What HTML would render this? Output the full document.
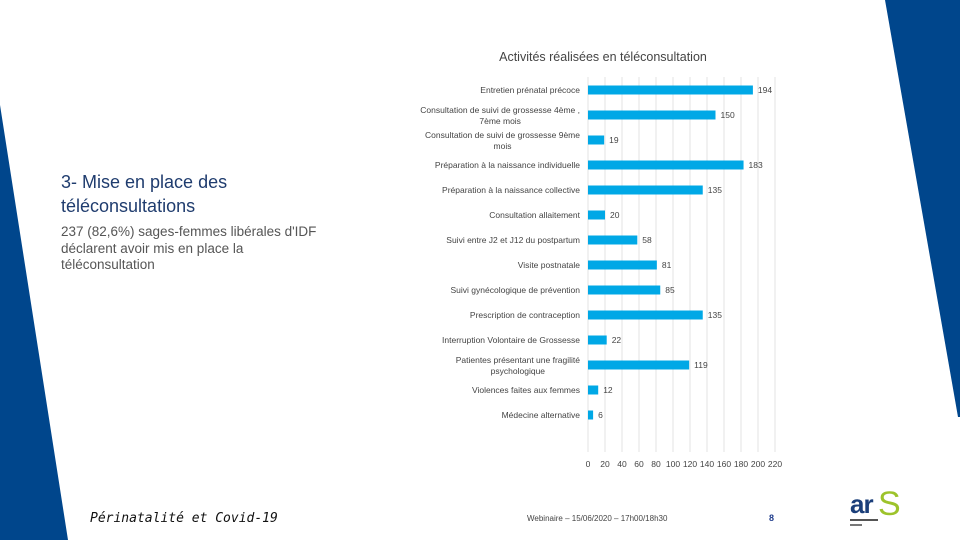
<!DOCTYPE html>
<html><head><meta charset="utf-8"><style>
body{margin:0;width:960px;height:540px;overflow:hidden;background:#fff;font-family:"Liberation Sans",sans-serif;position:relative}
.abs{position:absolute}
</style></head><body>
<svg class="abs" style="left:0;top:0" width="960" height="540">
<polygon points="0,105 68,540 0,540" fill="#00468c"/>
<polygon points="885,0 960,0 960,417 958,417" fill="#00468c"/>
</svg>
<div class="abs" style="left:61px;top:170px;font-size:18px;line-height:24px;color:#1f3c6e">3- Mise en place des<br>téléconsultations</div>
<div class="abs" style="left:61px;top:224px;font-size:13.5px;line-height:16.5px;color:#555">237 (82,6%) sages-femmes libérales d'IDF<br>déclarent avoir mis en place la<br>téléconsultation</div>
<div class="abs" style="left:90px;top:511px;font-size:13px;font-style:italic;font-family:'DejaVu Sans Mono',monospace;color:#111">Périnatalité et Covid-19</div>
<div class="abs" style="left:527px;top:514px;font-size:8px;color:#444">Webinaire – 15/06/2020 – 17h00/18h30</div>
<div class="abs" style="left:769px;top:513px;font-size:9px;font-weight:bold;color:#1f3c8c">8</div>
<div class="abs" style="left:850px;top:495px;width:52px;height:36px">
<span style="position:absolute;left:0;top:-6px;font-size:26px;font-weight:bold;color:#1b3f7a;letter-spacing:-1px">ar</span>
<span style="position:absolute;left:28px;top:-10px;font-size:34px;color:#9dc32b">S</span>
<div style="position:absolute;left:0;top:24px;width:28px;height:2px;background:#555"></div>
<div style="position:absolute;left:0;top:29px;width:12px;height:2px;background:#777"></div>
</div>
<svg id="chart" class="abs" style="left:0;top:0" width="960" height="540"></svg>
<script>
const categories=[["Entretien prénatal précoce"],["Consultation de suivi de grossesse 4ème ,","7ème mois"],["Consultation de suivi de grossesse 9ème","mois"],["Préparation à la naissance individuelle"],["Préparation à la naissance collective"],["Consultation allaitement"],["Suivi entre J2 et J12 du postpartum"],["Visite postnatale"],["Suivi gynécologique de prévention"],["Prescription de contraception"],["Interruption Volontaire de Grossesse"],["Patientes présentant une fragilité","psychologique"],["Violences faites aux femmes"],["Médecine alternative"]];
const values=[194,150,19,183,135,20,58,81,85,135,22,119,12,6];
const ticks=[0,20,40,60,80,100,120,140,160,180,200,220];
const NS="http://www.w3.org/2000/svg";
const svg=document.getElementById('chart');
const x0=588,k=0.85,yTop=77,yBot=452,row0=90,step=25;
const xs=v=>x0+v*k, ys=i=>row0+i*step;
function mk(t,a,txt){const e=document.createElementNS(NS,t);for(const n in a)e.setAttribute(n,a[n]);if(txt!==undefined)e.textContent=txt;svg.appendChild(e);return e;}
let t=mk('text',{x:603,y:61,'text-anchor':'middle','font-size':12.5,fill:'#444','font-family':'Liberation Sans'},'Activités réalisées en téléconsultation');


ticks.forEach(v=>{
 const l=mk('line',{x1:xs(v),x2:xs(v),y1:yTop,y2:yBot,stroke:'#e3e3e3','stroke-width':1});
 
 
 const tl=mk('text',{x:xs(v),y:467,'text-anchor':'middle','font-size':8.5,fill:'#444'},v);
 
 
});
values.forEach((v,i)=>{
 const y=ys(i);
 const r=mk('rect',{x:x0,y:y-4.5,width:v*k,height:9,fill:'#00a8e6'});
 
 
 const vl=mk('text',{x:xs(v)+5,y:y+3,'font-size':8.5,fill:'#444'},v);
 
 
 const lines=categories[i];
 if(lines.length===1){
  const cl=mk('text',{x:580,y:y+3,'text-anchor':'end','font-size':8.5,fill:'#444'},lines[0]);
  
  
 } else {
  const c1=mk('text',{x:580,y:y-2,'text-anchor':'end','font-size':8.5,fill:'#444'},lines[0]);
  
  
  const w=c1.getComputedTextLength();
  const c2=mk('text',{x:580-w/2,y:y+9,'text-anchor':'middle','font-size':8.5,fill:'#444'},lines[1]);
  
  
 }
});
</script>
</body></html>
